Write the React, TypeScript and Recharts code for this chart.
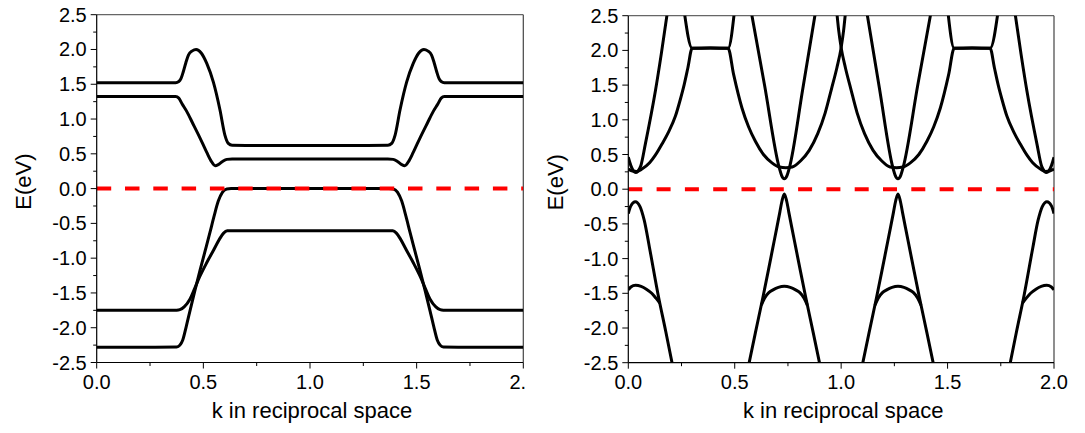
import { LineChart, Line, XAxis, YAxis, ReferenceLine, Label } from "recharts";

type Pt = [number, number];

const FONT = '"Liberation Sans", Arial, sans-serif';

const kTicks = [0, 0.25, 0.5, 0.75, 1, 1.25, 1.5, 1.75, 2];
const eTicks = [
  -2.5, -2.25, -2, -1.75, -1.5, -1.25, -1, -0.75, -0.5, -0.25, 0, 0.25, 0.5, 0.75, 1, 1.25, 1.5,
  1.75, 2, 2.25, 2.5,
];

const fermiLevel: Pt[] = [[0, 0], [2, 0]];

// left panel bands
const leftCondUpper: Pt[] = [
  [0, 1.52], [0.2, 1.52], [0.37, 1.523], [0.385, 1.54], [0.395, 1.58], [0.406, 1.68], [0.418, 1.81],
  [0.43, 1.92], [0.448, 1.98], [0.466, 2.0], [0.49, 1.95], [0.516, 1.8], [0.547, 1.53], [0.578, 1.13],
  [0.601, 0.77], [0.617, 0.65], [0.635, 0.622], [0.8, 0.62], [1.2, 0.62], [1.365, 0.622], [1.383, 0.65],
  [1.399, 0.77], [1.422, 1.13], [1.453, 1.53], [1.484, 1.8], [1.51, 1.95], [1.534, 2.0], [1.552, 1.98],
  [1.57, 1.92], [1.582, 1.81], [1.594, 1.68], [1.605, 1.58], [1.615, 1.54], [1.63, 1.523], [1.8, 1.52],
  [2, 1.52],
];
const leftCondLower: Pt[] = [
  [0, 1.325], [0.2, 1.325], [0.37, 1.323], [0.385, 1.3], [0.4, 1.22], [0.422, 1.11], [0.45, 0.94],
  [0.484, 0.73], [0.516, 0.52], [0.54, 0.38], [0.555, 0.33], [0.57, 0.345], [0.59, 0.39], [0.61, 0.42],
  [0.635, 0.425], [1, 0.425], [1.365, 0.425], [1.39, 0.42], [1.41, 0.39], [1.43, 0.345], [1.445, 0.33],
  [1.46, 0.38], [1.484, 0.52], [1.516, 0.73], [1.55, 0.94], [1.578, 1.11], [1.6, 1.22], [1.615, 1.3],
  [1.63, 1.323], [1.8, 1.325], [2, 1.325],
];
const leftValUpper: Pt[] = [
  [0, -2.28], [0.2, -2.28], [0.375, -2.278], [0.39, -2.25], [0.403, -2.18], [0.42, -1.98], [0.437, -1.76],
  [0.46, -1.47], [0.484, -1.18], [0.508, -0.9], [0.531, -0.63], [0.55, -0.4], [0.57, -0.18], [0.59, -0.05],
  [0.61, -0.005], [0.63, 0], [1, 0], [1.37, 0], [1.39, -0.005], [1.41, -0.05], [1.43, -0.18], [1.45, -0.4],
  [1.469, -0.63], [1.492, -0.9], [1.516, -1.18], [1.54, -1.47], [1.563, -1.76], [1.58, -1.98],
  [1.597, -2.18], [1.61, -2.25], [1.625, -2.278], [1.8, -2.28], [2, -2.28],
];
const leftValLower: Pt[] = [
  [0, -1.75], [0.2, -1.75], [0.375, -1.748], [0.39, -1.74], [0.41, -1.7], [0.437, -1.59], [0.46, -1.43],
  [0.484, -1.26], [0.515, -1.07], [0.547, -0.89], [0.575, -0.73], [0.595, -0.64], [0.612, -0.607],
  [0.635, -0.605], [1, -0.605], [1.365, -0.605], [1.388, -0.607], [1.405, -0.64], [1.425, -0.73],
  [1.453, -0.89], [1.485, -1.07], [1.516, -1.26], [1.54, -1.43], [1.563, -1.59], [1.59, -1.7],
  [1.61, -1.74], [1.625, -1.748], [1.8, -1.75], [2, -1.75],
];

// right panel bands
const rightCondVA: Pt[] = [
  [0, 0.46], [0.012, 0.34], [0.025, 0.26], [0.035, 0.24], [0.045, 0.26], [0.058, 0.33], [0.08, 0.65],
  [0.127, 1.41], [0.155, 1.95], [0.186, 2.6],
];
const rightCondVB: Pt[] = [
  [0.575, 2.6], [0.64, 1.5], [0.709, 0.31], [0.72, 0.2], [0.733, 0.15], [0.746, 0.2], [0.757, 0.31],
  [0.82, 1.45], [0.882, 2.6],
];
const rightCondVC: Pt[] = [
  [1.118, 2.6], [1.18, 1.45], [1.243, 0.31], [1.254, 0.2], [1.267, 0.15], [1.28, 0.2], [1.291, 0.31],
  [1.36, 1.5], [1.425, 2.6],
];
const rightCondVD: Pt[] = [
  [1.814, 2.6], [1.845, 1.95], [1.873, 1.41], [1.92, 0.65], [1.942, 0.33], [1.955, 0.26], [1.965, 0.24],
  [1.975, 0.26], [1.988, 0.34], [2, 0.46],
];
const rightCondLowA: Pt[] = [
  [0, 0.29], [0.02, 0.262], [0.04, 0.255], [0.064, 0.29], [0.1, 0.38], [0.127, 0.49], [0.16, 0.66],
  [0.19, 0.83], [0.221, 1.05], [0.245, 1.3], [0.262, 1.5], [0.28, 1.75], [0.3, 2.03], [0.385, 2.035],
  [0.469, 2.03], [0.495, 1.65], [0.534, 1.17], [0.565, 0.9], [0.597, 0.69], [0.635, 0.5], [0.675, 0.38],
  [0.71, 0.32], [0.74, 0.31], [0.77, 0.32], [0.81, 0.41], [0.85, 0.56], [0.89, 0.8], [0.925, 1.1],
  [0.955, 1.45], [0.98, 1.75], [1, 2.04], [1.012, 2.3], [1.022, 2.6],
];
const rightCondLowB: Pt[] = [
  [0.978, 2.6], [0.988, 2.3], [1, 2.04], [1.02, 1.75], [1.045, 1.45], [1.075, 1.1], [1.11, 0.8],
  [1.15, 0.56], [1.19, 0.41], [1.23, 0.32], [1.26, 0.31], [1.29, 0.32], [1.325, 0.38], [1.365, 0.5],
  [1.403, 0.69], [1.435, 0.9], [1.466, 1.17], [1.505, 1.65], [1.531, 2.03], [1.615, 2.035], [1.7, 2.03],
  [1.72, 1.75], [1.738, 1.5], [1.755, 1.3], [1.779, 1.05], [1.81, 0.83], [1.84, 0.66], [1.873, 0.49],
  [1.9, 0.38], [1.936, 0.29], [1.96, 0.255], [1.98, 0.262], [2, 0.29],
];
const rightCondFlatA: Pt[] = [[0.261, 2.6], [0.3, 2.03], [0.385, 2.035], [0.469, 2.03], [0.5, 2.6]];
const rightCondFlatB: Pt[] = [[1.5, 2.6], [1.531, 2.03], [1.615, 2.035], [1.7, 2.03], [1.739, 2.6]];

const rightValTopA: Pt[] = [
  [0, -0.35], [0.012, -0.24], [0.033, -0.18], [0.055, -0.25], [0.075, -0.45], [0.1, -0.85], [0.14, -1.52],
  [0.176, -2.05], [0.212, -2.6],
];
const rightValDomeA: Pt[] = [
  [0, -1.45], [0.012, -1.41], [0.034, -1.385], [0.06, -1.4], [0.085, -1.44], [0.11, -1.5], [0.13, -1.57],
  [0.148, -1.64],
];
const rightValTopB: Pt[] = [
  [0.561, -2.6], [0.597, -2.07], [0.633, -1.55], [0.658, -1.17], [0.678, -0.86], [0.698, -0.55],
  [0.712, -0.33], [0.722, -0.17], [0.733, -0.07], [0.744, -0.17], [0.754, -0.33], [0.768, -0.55],
  [0.788, -0.86], [0.808, -1.17], [0.833, -1.55], [0.869, -2.07], [0.905, -2.6],
];
const rightValDomeB: Pt[] = [
  [0.625, -1.67], [0.64, -1.57], [0.66, -1.49], [0.68, -1.45], [0.705, -1.415], [0.733, -1.4],
  [0.761, -1.415], [0.786, -1.45], [0.806, -1.49], [0.826, -1.57], [0.841, -1.67],
];
const rightValTopC: Pt[] = [
  [1.095, -2.6], [1.131, -2.07], [1.167, -1.55], [1.192, -1.17], [1.212, -0.86], [1.232, -0.55],
  [1.246, -0.33], [1.256, -0.17], [1.267, -0.07], [1.278, -0.17], [1.288, -0.33], [1.302, -0.55],
  [1.322, -0.86], [1.342, -1.17], [1.367, -1.55], [1.403, -2.07], [1.439, -2.6],
];
const rightValDomeC: Pt[] = [
  [1.159, -1.67], [1.174, -1.57], [1.194, -1.49], [1.214, -1.45], [1.239, -1.415], [1.267, -1.4],
  [1.295, -1.415], [1.32, -1.45], [1.34, -1.49], [1.36, -1.57], [1.375, -1.67],
];
const rightValTopD: Pt[] = [
  [1.788, -2.6], [1.824, -2.05], [1.86, -1.52], [1.9, -0.85], [1.925, -0.45], [1.945, -0.25],
  [1.967, -0.18], [1.988, -0.24], [2, -0.35],
];
const rightValDomeD: Pt[] = [
  [1.852, -1.64], [1.87, -1.57], [1.89, -1.5], [1.915, -1.44], [1.94, -1.4], [1.966, -1.385],
  [1.988, -1.41], [2, -1.45],
];

const leftBands = [leftCondUpper, leftCondLower, leftValUpper, leftValLower];
const rightBands = [
  rightCondVA, rightCondVB, rightCondVC, rightCondVD, rightCondLowA, rightCondLowB, rightCondFlatA,
  rightCondFlatB, rightValTopA, rightValDomeA, rightValTopB, rightValDomeB, rightValTopC, rightValDomeC,
  rightValTopD, rightValDomeD,
];

const isMajor = (v: number) => Math.abs(v * 2 - Math.round(v * 2)) < 1e-6;

function YTick(props: any) {
  const { x, y, payload } = props;
  const v = payload.value as number;
  const major = isMajor(v);
  return (
    <g>
      <line x1={x - (major ? 6 : 3.5)} x2={x} y1={y} y2={y} stroke="#000" strokeWidth={1} />
      {major && (
        <text x={x - 10} y={y} textAnchor="end" dominantBaseline="central" fontSize={20} fill="#000" fontFamily={FONT}>
          {v.toFixed(1)}
        </text>
      )}
    </g>
  );
}

// the left panel's last label is cropped to "2." in the original figure
function XTick(props: any) {
  const { x, y, payload, cropLast } = props;
  const v = payload.value as number;
  const major = isMajor(v);
  const cropped = cropLast && v === 2;
  return (
    <g>
      <line x1={x} x2={x} y1={y} y2={y + (major ? 6 : 3.5)} stroke="#000" strokeWidth={1} />
      {major && (
        <text
          x={cropped ? x - 13.9 : x}
          y={y + 19}
          textAnchor={cropped ? "start" : "middle"}
          dominantBaseline="central"
          fontSize={20}
          fill="#000"
          fontFamily={FONT}
        >
          {cropped ? "2." : v.toFixed(1)}
        </text>
      )}
    </g>
  );
}

type PanelProps = {
  bands: Pt[][];
  width: number;
  margin: { top: number; right: number; bottom: number; left: number };
  yAxisWidth: number;
  dash: string;
  cropLast?: boolean;
};

function Panel({ bands, width, margin, yAxisWidth, dash, cropLast }: PanelProps) {
  const plotW = width - margin.left - margin.right - yAxisWidth;
  const plotH = 433 - margin.top - margin.bottom - 30;
  const plotX = margin.left + yAxisWidth;
  const yMid = margin.top + plotH / 2 - 7;
  return (
    <LineChart width={width} height={433} margin={margin}>
      <XAxis
        dataKey="k"
        type="number"
        domain={[0, 2]}
        ticks={kTicks}
        interval={0}
        allowDataOverflow
        height={30}
        tickSize={0}
        tickMargin={0}
        tickLine={false}
        tick={<XTick cropLast={cropLast} />}
        axisLine={{ stroke: "#000", strokeWidth: 1.2 }}
      >
        <Label
          content={() => (
            <text
              x={plotX + plotW / 2 + 2}
              y={410}
              textAnchor="middle"
              dominantBaseline="central"
              fontSize={22}
              fill="#000"
              fontFamily={FONT}
            >
              k in reciprocal space
            </text>
          )}
        />
      </XAxis>
      <YAxis
        type="number"
        domain={[-2.5, 2.5]}
        ticks={eTicks}
        interval={0}
        allowDataOverflow
        width={yAxisWidth}
        tickSize={0}
        tickMargin={0}
        tickLine={false}
        tick={<YTick />}
        axisLine={{ stroke: "#000", strokeWidth: 1.2 }}
      >
        <Label
          content={() => (
            <text
              x={24}
              y={yMid}
              transform={`rotate(-90 24 ${yMid})`}
              textAnchor="middle"
              dominantBaseline="central"
              fontSize={22}
              fill="#000"
              fontFamily={FONT}
            >
              E(eV)
            </text>
          )}
        />
      </YAxis>
      <ReferenceLine y={2.5} stroke="#666" strokeWidth={1.2} />
      <ReferenceLine x={2} stroke="#444" strokeWidth={1.2} />
      {bands.map((band, i) => (
        <Line
          key={i}
          data={band.map(([k, E]) => ({ k, E }))}
          dataKey="E"
          type="monotone"
          stroke="#000"
          strokeWidth={3}
          dot={false}
          activeDot={false}
          isAnimationActive={false}
        />
      ))}
      <Line
        data={fermiLevel.map(([k, E]) => ({ k, E }))}
        dataKey="E"
        type="linear"
        stroke="#ff0000"
        strokeWidth={4}
        strokeDasharray={dash}
        dot={false}
        activeDot={false}
        isAnimationActive={false}
      />
    </LineChart>
  );
}

export default function App() {
  return (
    <div style={{ position: "absolute", left: 0, top: 0, width: 1085, height: 433, background: "#fff" }}>
      <div style={{ position: "absolute", left: 0, top: 0, width: 532, height: 433 }}>
        <Panel
          bands={leftBands}
          width={532}
          margin={{ top: 14.7, right: 8.7, bottom: 40.5, left: 0 }}
          yAxisWidth={96.7}
          dash="14.5 13.8"
          cropLast
        />
      </div>
      <div style={{ position: "absolute", left: 532, top: 0, width: 553, height: 433 }}>
        <Panel
          bands={rightBands}
          width={553}
          margin={{ top: 15.7, right: 31, bottom: 40.3, left: 0 }}
          yAxisWidth={96.3}
          dash="14 14.3"
        />
      </div>
    </div>
  );
}
